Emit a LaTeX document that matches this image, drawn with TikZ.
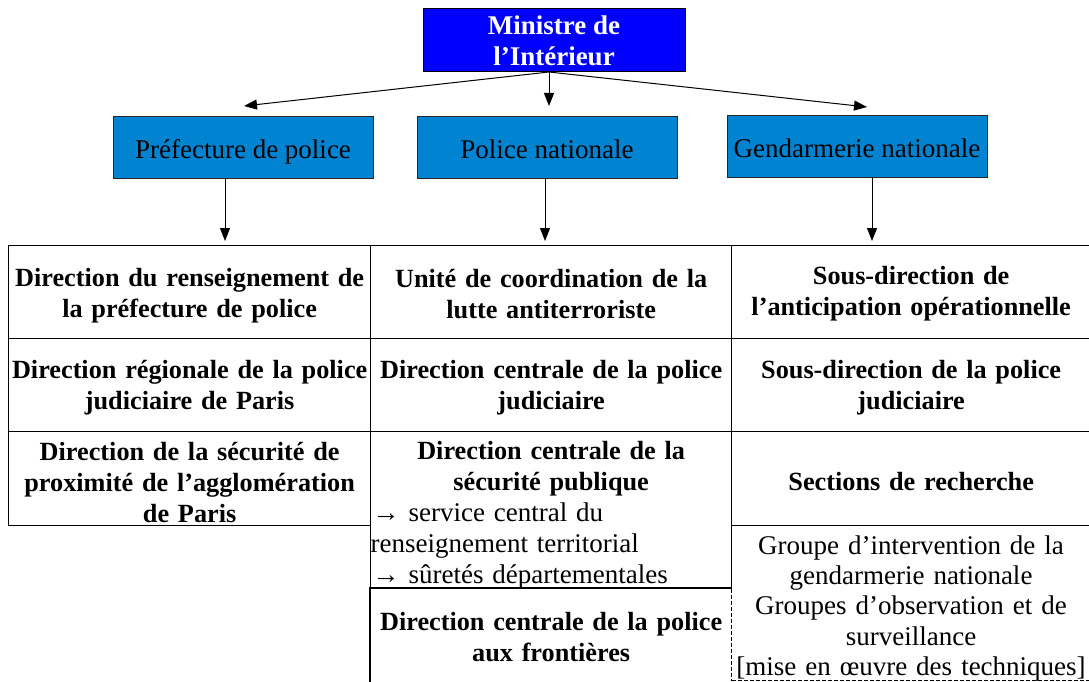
\documentclass[tikz,border=0pt]{standalone}
\usepackage{fontspec}
\setmainfont{Liberation Serif}
\usetikzlibrary{arrows.meta}
\definecolor{minblue}{RGB}{0,0,255}
\definecolor{orgblue}{RGB}{0,132,209}
% #1 name, #2 position, #3 width, #4 height, #5 cell style, #6 text width, #7 down shift, #8 text style, #9 text
\newcommand{\mkcell}[9]{%
  \node[cellbox, #5, minimum width=#3, minimum height=#4] (#1) at #2 {};
  \node[#8, text width=#6, align=center, inner sep=0pt] (#1t) at ([yshift=-#7]#1.center) {#9};}
\begin{document}
\begin{tikzpicture}[x=1pt,y=-1pt,
  regfont/.style={font=\fontsize{27}{31}\selectfont},
  regfontb/.style={font=\fontsize{27}{30.3}\selectfont},
  boldfont/.style={font=\fontsize{26.25}{31}\selectfont\bfseries},
  topbox/.style={draw=black!85, line width=1pt, fill=orgblue, minimum width=260pt,
    minimum height=61pt, inner sep=0pt, align=center, regfont, text height=26pt, text depth=4pt},
  cellbox/.style={draw=black, line width=1.3pt, anchor=north west, inner sep=0pt},
  dashbox/.style={line width=1pt, dash pattern=on 4pt off 2pt},
  arr/.style={line width=1pt, -{Triangle[length=13pt,width=10pt]}}]
\useasboundingbox (0,0) rectangle (1089,682);
\clip (0,0) rectangle (1089,682);
\fill[white] (0,0) rectangle (1089,682);

% top
\node[draw=black, line width=1pt, fill=minblue, text=white, minimum width=262pt,
  minimum height=63pt, inner sep=0pt, align=center, font=\fontsize{27}{31}\selectfont\bfseries] (min) at (554,40.5)
  {Ministre de\\ l’Intérieur};
\node[topbox] (pref) at (243,147.5) {Préfecture de police};
\node[topbox] (pn) at (547,147.5) {Police nationale};
\node[topbox] (gn) at (857,146.5) {Gendarmerie nationale};

\coordinate (src) at (549,72);
\coordinate (tl) at (244,106);
\coordinate (tm) at (549,106);
\coordinate (tr) at (867,107);
\draw[arr] (src) -- (tl);
\draw[arr] (src) -- (tm);
\draw[arr] (src) -- (tr);

\coordinate (d1) at (225,241);
\coordinate (d2) at (545,241);
\coordinate (d3) at (872,241);
\draw[arr] (pref.south -| d1) -- (d1);
\draw[arr] (pn.south -| d2) -- (d2);
\draw[arr] (gn.south -| d3) -- (d3);

% column 1
\mkcell{c11}{(8,245)}{362pt}{93pt}{}{358pt}{3.5pt}{boldfont}
  {Direction du renseignement de\\ la préfecture de police}
\mkcell{c12}{(8,338)}{362pt}{93pt}{}{358pt}{3pt}{boldfont}
  {Direction régionale de la police\\ judiciaire de Paris}
\mkcell{c13}{(8,431)}{362pt}{94pt}{}{358pt}{3.5pt}{boldfont}
  {Direction de la sécurité de\\ proximité de l’agglomération\\ de Paris}

% column 2
\mkcell{c21}{(370,245)}{361pt}{93pt}{}{357pt}{1.5pt}{boldfont}
  {Unité de coordination de la\\ lutte antiterroriste}
\mkcell{c22}{(370,338)}{361pt}{93pt}{}{357pt}{3pt}{boldfont}
  {Direction centrale de la police\\ judiciaire}
\mkcell{c23}{(370,431)}{361pt}{157pt}{}{357pt}{5.5pt}{boldfont}
  {Direction centrale de la\\ sécurité publique\\
   {\fontsize{27}{31}\selectfont\mdseries\makebox[357pt][l]{→\hspace{9pt}service central du}}\\
   {\fontsize{27}{31}\selectfont\mdseries\makebox[357pt][l]{\hspace{-2pt}renseignement territorial}}\\
   {\fontsize{27}{31}\selectfont\mdseries\makebox[357pt][l]{→\hspace{9pt}sûretés départementales}}}
\mkcell{c24}{(370,588)}{361pt}{96pt}{draw=none}{357pt}{0pt}{boldfont}
  {Direction centrale de la police\\ aux frontières}
\draw[line width=1.3pt] (c24.north east) -- (c24.north west) -- (c24.south west);

% column 3
\mkcell{c31}{(731,245)}{359pt}{93pt}{}{355pt}{1.5pt}{boldfont}
  {Sous-direction de\\ l’anticipation opérationnelle}
\mkcell{c32}{(731,338)}{359pt}{93pt}{}{355pt}{3pt}{boldfont}
  {Sous-direction de la police\\ judiciaire}
\mkcell{c33}{(731,431)}{359pt}{94pt}{}{355pt}{3pt}{boldfont}
  {Sections de recherche}
\mkcell{c34}{(731,525)}{359pt}{155pt}{dashbox}{355pt}{5.5pt}{regfontb}
  {Groupe d’intervention de la\\ gendarmerie nationale\\ Groupes d’observation et de\\
   surveillance\\ {[}mise en œuvre des techniques{]}}
\end{tikzpicture}
\end{document}
